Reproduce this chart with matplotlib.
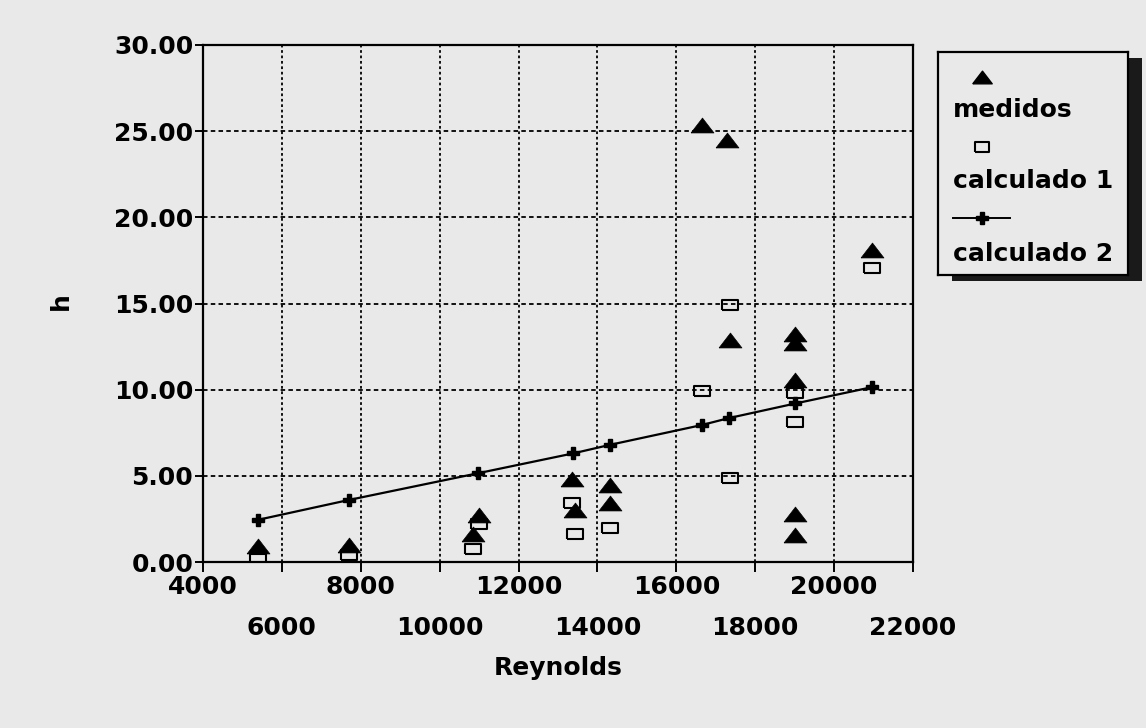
import matplotlib
matplotlib.use('Agg')
import matplotlib.pyplot as plt
from matplotlib.patches import Rectangle
from matplotlib.ticker import FixedLocator, FormatStrFormatter

# ---- data ----
medidos_x = [5400, 7700, 11000, 10850, 13350, 13420, 14330, 14330, 16650, 17290,
             17370, 19000, 19000, 19000, 19000, 19000, 20950]
medidos_y = [0.9, 1.0, 2.75, 1.65, 4.8, 3.0, 4.45, 3.4, 25.35, 24.5,
             12.9, 13.25, 12.7, 10.55, 2.8, 1.55, 18.1]

calc1_x = [5400, 7700, 10850, 11000, 13350, 13420, 14330, 16650, 17370, 17370,
           19000, 19000, 20950]
calc1_y = [0.2, 0.4, 0.75, 2.2, 3.45, 1.6, 1.95, 9.95, 14.9, 4.85,
           9.8, 8.15, 17.05]

calc2_x = [5400, 7700, 10970, 13380, 14320, 16650, 17330, 19020, 20970]
calc2_y = [2.45, 3.6, 5.15, 6.3, 6.8, 7.95, 8.35, 9.2, 10.15]

x_ticks_top = [4000, 8000, 12000, 16000, 20000]
x_ticks_bottom = [6000, 10000, 14000, 18000, 22000]
y_ticks = [0, 5, 10, 15, 20, 25, 30]

labels = ['medidos', 'calculado 1', 'calculado 2']
x_label = 'Reynolds'
y_label = 'h'

# ---- style ----
BG = '#e9e9e9'
plt.rcParams['font.family'] = ['DejaVu Sans']
plt.rcParams['font.weight'] = 'bold'
FS = 18

tri = [(-1, -0.65), (1, -0.65), (0, 0.65), (-1, -0.65)]
rect = [(-1, -0.62), (1, -0.62), (1, 0.62), (-1, 0.62), (-1, -0.62)]

W, H = 1146, 728
fig = plt.figure(figsize=(W / 100, H / 100), dpi=100, facecolor=BG)

ax_l, ax_r, ax_t, ax_b = 203, 913, 45, 562
ax = fig.add_axes([ax_l / W, 1 - ax_b / H, (ax_r - ax_l) / W, (ax_b - ax_t) / H])
ax.set_facecolor(BG)
ax.set_xlim(4000, 22000)
ax.set_ylim(0, 30)

ax.xaxis.set_major_locator(FixedLocator(x_ticks_top))
ax.xaxis.set_minor_locator(FixedLocator(x_ticks_bottom))
ax.set_xticklabels([str(v) for v in x_ticks_top])
ax.set_xticklabels([str(v) for v in x_ticks_bottom], minor=True)
ax.yaxis.set_major_locator(FixedLocator(y_ticks))
ax.yaxis.set_major_formatter(FormatStrFormatter('%.2f'))

for s in ax.spines.values():
    s.set_linewidth(1.6)
    s.set_color('black')

ax.tick_params(axis='y', which='major', direction='out', length=6, width=1.4,
               pad=1, labelsize=FS)
ax.tick_params(axis='x', which='major', direction='out', length=7, width=1.4,
               pad=2, labelsize=FS)
ax.tick_params(axis='x', which='minor', direction='out', length=7, width=1.4,
               pad=32, labelsize=FS)
for lab in ax.get_xticklabels(minor=True) + ax.get_xticklabels() + ax.get_yticklabels():
    lab.set_fontweight('bold')

ax.grid(True, which='both', axis='x', color='black', linestyle=(0, (1.5, 1.5)), linewidth=1.3)
ax.grid(True, which='major', axis='y', color='black', linestyle=(0, (2.5, 1.8)), linewidth=1.3)
ax.set_axisbelow(True)

# series
ax.plot(calc2_x, calc2_y, color='black', linewidth=1.6, marker='P', markersize=8,
        markerfacecolor='black', markeredgecolor='black', zorder=3)
ax.plot(calc1_x, calc1_y, linestyle='none', marker=rect, markersize=11.5,
        markerfacecolor='none', markeredgecolor='black', markeredgewidth=1.5, zorder=4)
ax.plot(medidos_x, medidos_y, linestyle='none', marker=tri, markersize=16.5,
        markerfacecolor='black', markeredgecolor='black', markeredgewidth=0.5, zorder=5)

fig.text(558 / W, 1 - 668 / H, x_label, ha='center', va='center', fontsize=FS,
         fontweight='bold')
fig.text(61 / W, 1 - 301 / H, y_label, ha='center', va='center', fontsize=FS,
         fontweight='bold', rotation=90)

# ---- legend box (marker above label, with drop shadow) ----
lx0, lx1, ly0, ly1 = 938, 1128, 52, 275
shadow = fig.add_axes([(lx0 + 14) / W, 1 - (ly1 + 6) / H, (lx1 - lx0) / W, (ly1 - ly0) / H])
shadow.set_facecolor('#1a1a1a')
shadow.set_xticks([]); shadow.set_yticks([])
for s in shadow.spines.values():
    s.set_visible(False)

lg = fig.add_axes([lx0 / W, 1 - ly1 / H, (lx1 - lx0) / W, (ly1 - ly0) / H])
lg.set_facecolor(BG)
lg.set_xlim(lx0, lx1)
lg.set_ylim(ly1, ly0)
lg.set_xticks([]); lg.set_yticks([])
for s in lg.spines.values():
    s.set_linewidth(1.6)

lg.plot([982], [77], linestyle='none', marker=tri, markersize=14,
        markerfacecolor='black', markeredgecolor='black')
lg.text(953, 110, labels[0], ha='left', va='center', fontsize=FS, fontweight='bold')
lg.plot([982], [147], linestyle='none', marker=rect, markersize=10.5,
        markerfacecolor='none', markeredgecolor='black', markeredgewidth=1.5)
lg.text(953, 181, labels[1], ha='left', va='center', fontsize=FS, fontweight='bold')
lg.plot([953, 1010], [218, 218], color='black', linewidth=1.4, marker=None)
lg.plot([982], [218], linestyle='none', marker='P', markersize=8, color='black')
lg.text(953, 254, labels[2], ha='left', va='center', fontsize=FS, fontweight='bold')

fig.savefig('out.png', dpi=100, facecolor=BG)
